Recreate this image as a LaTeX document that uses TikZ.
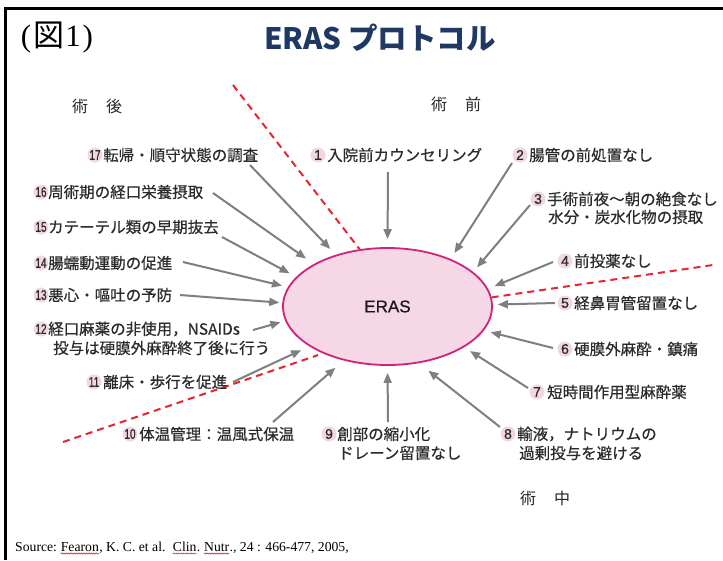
\documentclass[tikz,border=0pt]{standalone}
\usepackage{fontspec}
\usepackage{graphicx}
\setmainfont{Liberation Serif}
\newfontfamily\jp{Noto Sans CJK JP}
\newfontfamily\jpm{Noto Sans CJK JP}[FakeBold=0.45]
\newfontfamily\lsans{Liberation Sans}
\newfontfamily\lsansm{Liberation Sans}[FakeBold=0.6]
\usetikzlibrary{arrows.meta,shapes.geometric,decorations.pathmorphing}
\definecolor{navy}{HTML}{1F3864}
\definecolor{txt}{HTML}{2B2B2B}
\definecolor{pinkc}{HTML}{F2D6E2}
\definecolor{arrg}{HTML}{7F7F7F}
\definecolor{ellf}{HTML}{F6D7E6}
\definecolor{elld}{HTML}{D0237A}
\definecolor{dashr}{HTML}{E8262D}
\tikzset{
  numc/.style={circle, fill=pinkc, minimum size=15pt, inner sep=0pt, text=txt,
    font=\lsansm\fontsize{14}{14}\selectfont},
  lab/.style={anchor=west, inner sep=0pt, text=txt, font=\jpm\fontsize{15.5}{15.5}\selectfont},
  phase/.style={inner sep=0pt, text=black!85, font=\jp\fontsize{16}{16}\selectfont},
  arr/.style={draw=arrg, line width=2pt, -{Triangle[length=10pt,width=8pt]}, shorten >=7pt},
  rdash/.style={draw=dashr, line width=2pt, dash pattern=on 7pt off 5pt},
  src/.style={inner sep=0pt, anchor=base west, font=\fontsize{13.7}{13.7}\selectfont},
  wavy/.style={draw=red!85!black, line width=0.5pt, decorate,
    decoration={snake, amplitude=0.6pt, segment length=2.5pt}}
}
\newcommand\twod[1]{\scalebox{0.72}[1]{#1}}
\begin{document}
\begin{tikzpicture}[x=1pt,y=-1pt]
\useasboundingbox[fill=white] (0,0) rectangle (723,560);
% frame
\draw[line width=3pt] (723,8) -- (5,8) -- (5,560);
% titles
\node[inner sep=0pt] (fig) at (57,38) {\fontsize{31}{31}\selectfont (\hspace{2pt}{\jp 図}\hspace{1pt}1\hspace{2pt})};
\node[inner sep=0pt, text=navy, font=\jp\bfseries\fontsize{29.5}{29.5}\selectfont] (title) at (380,38) {ERAS プロトコル};
% phases
\node[phase] (ph1) at (97,106) {術\hspace{18pt}後};
\node[phase] (ph2) at (456,104) {術\hspace{18pt}前};
\node[phase] (ph3) at (545,498) {術\hspace{18pt}中};
% ellipse
\node[ellipse, draw=elld, fill=ellf, line width=1.8pt, minimum width=209pt, minimum height=117pt,
  inner sep=0pt, text=black!90, font=\lsansm\fontsize{17}{17}\selectfont] (E) at (387.5,306.5) {ERAS};
% dashed separators
\coordinate (dA) at (233,85);
\coordinate (dB) at (713,265);
\coordinate (dC) at (63,442);
\draw[rdash] (dA) -- (E.116);
\draw[rdash] (E.5.2) -- (dB);
\draw[rdash, shorten >=5pt] (dC) -- (E.216.8);
% labels
\node[numc] (n1) at (318,155) {1};
\node[lab] (t1) at (327,155) {入院前カウンセリング};
\node[numc] (n2) at (520,155) {2};
\node[lab] (t2) at (529,155) {腸管の前処置なし};
\node[numc] (n3) at (538,199) {3};
\node[lab] (t3) at (547,199) {手術前夜〜朝の絶食なし};
\node[lab] (t3b) at (548,217) {水分・炭水化物の摂取};
\node[numc] (n4) at (565,261) {4};
\node[lab] (t4) at (574,261) {前投薬なし};
\node[numc] (n5) at (565,303) {5};
\node[lab] (t5) at (574,303) {経鼻胃管留置なし};
\node[numc] (n6) at (565,349) {6};
\node[lab] (t6) at (574,349) {硬膜外麻酔・鎮痛};
\node[numc] (n7) at (537,392) {7};
\node[lab] (t7) at (547,392) {短時間作用型麻酔薬};
\node[numc] (n8) at (508,434) {8};
\node[lab] (t8) at (517,434) {輸液，ナトリウムの};
\node[lab] (t8b) at (519,453) {過剰投与を避ける};
\node[numc] (n9) at (329,434) {9};
\node[lab] (t9) at (337,434) {創部の縮小化};
\node[lab] (t9b) at (338,453) {ドレーン留置なし};
\node[numc] (n10) at (130,434) {\twod{10}};
\node[lab] (t10) at (139,434) {体温管理：温風式保温};
\node[numc] (n11) at (94,382) {\twod{11}};
\node[lab] (t11) at (103,382) {離床・歩行を促進};
\node[numc] (n12) at (41,329) {\twod{12}};
\node[lab] (t12) at (48,329) {経口麻薬の非使用，NSAIDs};
\node[lab] (t12b) at (53,348) {投与は硬膜外麻酔終了後に行う};
\node[numc] (n13) at (41,295) {\twod{13}};
\node[lab] (t13) at (48,295) {悪心・嘔吐の予防};
\node[numc] (n14) at (41,263) {\twod{14}};
\node[lab] (t14) at (48,263) {腸蠕動運動の促進};
\node[numc] (n15) at (41,227) {\twod{15}};
\node[lab] (t15) at (48,227) {カテーテル類の早期抜去};
\node[numc] (n16) at (41,192) {\twod{16}};
\node[lab] (t16) at (48,192) {周術期の経口栄養摂取};
\node[numc] (n17) at (95,155) {\twod{17}};
\node[lab] (t17) at (103,155) {転帰・順守状態の調査};
% arrow starts
\coordinate (s1) at (388,172);
\coordinate (s2) at (512,163);
\coordinate (s3) at (530,205);
\coordinate (s4) at (553,262);
\coordinate (s5) at (555,303);
\coordinate (s6) at (553,348);
\coordinate (s7) at (528,388);
\coordinate (s8) at (500,427);
\coordinate (s9) at (388,422);
\coordinate (s10) at (273,422);
\coordinate (s11) at (233,382);
\coordinate (s12) at (253,330);
\coordinate (s13) at (180,295);
\coordinate (s14) at (183,262);
\coordinate (s15) at (222,237);
\coordinate (s16) at (213,193);
\coordinate (s17) at (250,165);
% arrows
\draw[arr, shorten >=8pt] (s1) -- (E.90);
\draw[arr] (s2) -- (E.37.7);
\draw[arr, shorten >=6pt] (s3) -- (E.22.8);
\draw[arr] (s4) -- (E.10.9);
\draw[arr, shorten >=5pt] (s5) -- (E.1.9);
\draw[arr] (s6) -- (E.346);
\draw[arr] (s7) -- (E.332.6);
\draw[arr, shorten >=12pt] (s8) -- (E.299);
\draw[arr] (s9) -- (E.270);
\draw[arr, shorten >=11pt] (s10) -- (E.231.6);
\draw[arr, shorten >=9pt] (s11) -- (E.207.5);
\draw[arr, shorten >=5pt] (s12) -- (E.188.6);
\draw[arr, shorten >=3pt] (s13) -- (E.178.2);
\draw[arr, shorten >=6pt] (s14) -- (E.169.8);
\draw[arr, shorten >=7.5pt] (s15) -- (E.162.4);
\draw[arr, shorten >=9.5pt] (s16) -- (E.150);
\draw[arr, shorten >=8pt] (s17) -- (E.135.7);
% source line
\node[src] (r1) at (15,551) {Source:\hspace{3.4pt}\null};
\node[src] (r2) at (r1.base east) {Fearon};
\node[src] (r3) at (r2.base east) {,\ K.\ C.\ et al.\hspace{7pt}\null};
\node[src] (r4) at (r3.base east) {Clin};
\node[src] (r5) at (r4.base east) {.\hspace{3.4pt}\null};
\node[src] (r6) at (r5.base east) {Nutr};
\node[src] (r7) at (r6.base east) {.,\ 24 : 466-477, 2005,};
\draw[wavy] ([yshift=-2.5pt]r2.base west) -- ([yshift=-2.5pt]r2.base east);
\draw[wavy] ([yshift=-2.5pt]r4.base west) -- ([yshift=-2.5pt]r4.base east);
\draw[wavy] ([yshift=-2.5pt]r6.base west) -- ([yshift=-2.5pt]r6.base east);
\end{tikzpicture}
\end{document}
